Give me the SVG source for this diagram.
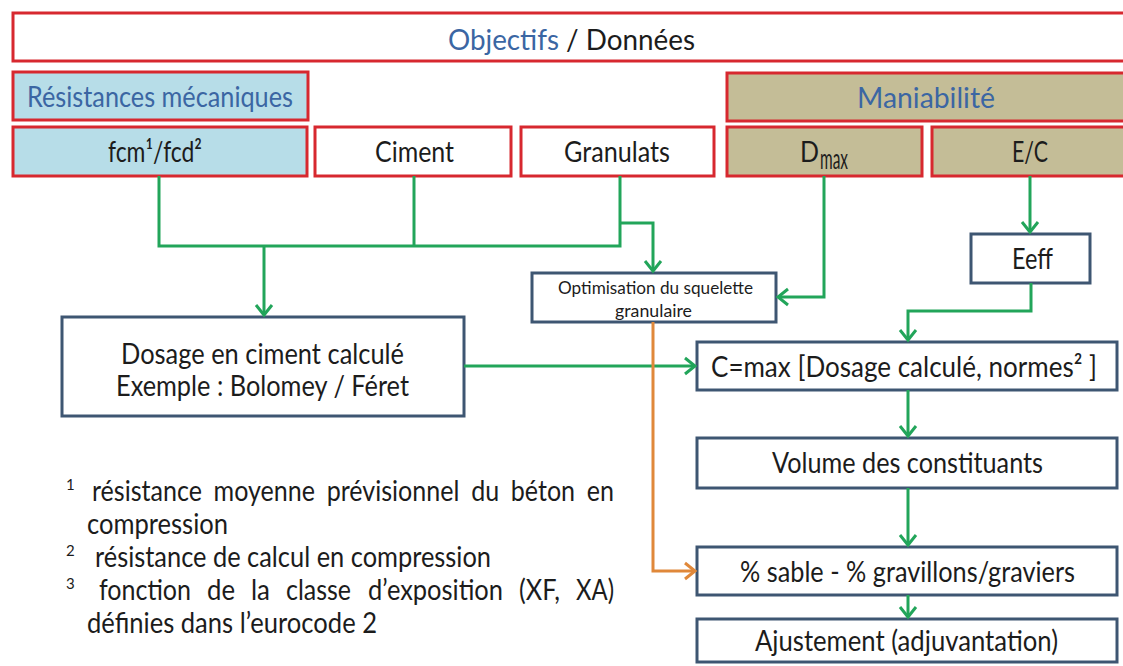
<svg xmlns="http://www.w3.org/2000/svg" width="1123" height="666" viewBox="0 0 1123 666">
<defs>
<style>
.red{fill:#fff;stroke:#d7282f;stroke-width:3}
.lb{fill:#b7dde8}
.tan{fill:#c4bd97}
.sl{fill:#fff;stroke:#3e5672;stroke-width:3}
.t{font-family:Lato,"Liberation Sans",sans-serif;font-size:28.5px;fill:#1c1c1c}
.tb{fill:#3b66a3}
.sm{font-size:17.5px}
.fn{font-size:15px}
.conn{fill:none;stroke:#22a55a;stroke-width:3}
.org{fill:none;stroke:#e0883a;stroke-width:3}
</style>
<marker id="ag" markerUnits="userSpaceOnUse" markerWidth="16" markerHeight="20" viewBox="-2 -2 16 20" refX="10" refY="8" orient="auto">
<path d="M0,0 L10,8 L0,16" fill="none" stroke="#22a55a" stroke-width="3"/>
</marker>
<marker id="ao" markerUnits="userSpaceOnUse" markerWidth="16" markerHeight="20" viewBox="-2 -2 16 20" refX="10" refY="8" orient="auto">
<path d="M0,0 L10,8 L0,16" fill="none" stroke="#e0883a" stroke-width="3"/>
</marker>
</defs>
<rect width="1123" height="666" fill="#fff"/>

<g id="objectifs">
<rect class="red" x="13" y="13" width="1116" height="48"/>
<text class="t tb" x="448" y="50" font-size="30" textLength="111" lengthAdjust="spacingAndGlyphs">Objectifs</text>
<text class="t" x="566" y="50" font-size="30" textLength="129" lengthAdjust="spacingAndGlyphs">/ Données</text>
</g>
<g id="resistances">
<rect class="red lb" x="13" y="72" width="295" height="48"/>
<text class="t tb" x="27" y="107" font-size="29" textLength="266" lengthAdjust="spacingAndGlyphs">Résistances mécaniques</text>
</g>
<g id="maniabilite">
<rect class="red tan" x="727" y="73" width="402" height="48"/>
<text class="t tb" x="857" y="108" font-size="29" textLength="138" lengthAdjust="spacingAndGlyphs">Maniabilité</text>
</g>
<g id="fcm">
<rect class="red lb" x="13" y="127" width="294" height="49"/>
<text class="t" x="108" y="162" textLength="94" lengthAdjust="spacingAndGlyphs">fcm¹/fcd²</text>
</g>
<g id="ciment">
<rect class="red" x="315" y="127" width="196" height="49"/>
<text class="t" x="375" y="162" textLength="79" lengthAdjust="spacingAndGlyphs">Ciment</text>
</g>
<g id="granulats">
<rect class="red" x="521" y="127" width="193" height="49"/>
<text class="t" x="564" y="162" textLength="106" lengthAdjust="spacingAndGlyphs">Granulats</text>
</g>
<g id="dmax">
<rect class="red tan" x="727" y="127" width="195" height="49"/>
<text class="t" x="800" y="162" textLength="19" lengthAdjust="spacingAndGlyphs">D</text>
<text class="t" x="820" y="169" font-size="18" textLength="28" lengthAdjust="spacingAndGlyphs">max</text>
</g>
<g id="ec">
<rect class="red tan" x="932" y="127" width="197" height="49"/>
<text class="t" x="1012" y="162" textLength="36" lengthAdjust="spacingAndGlyphs">E/C</text>
</g>
<g id="optimisation">
<rect class="sl" x="532" y="273" width="244" height="49"/>
<text class="t sm" x="558" y="294" textLength="195" lengthAdjust="spacingAndGlyphs">Optimisation du squelette</text>
<text class="t sm" x="615" y="317" textLength="77" lengthAdjust="spacingAndGlyphs">granulaire</text>
</g>
<g id="eeff">
<rect class="sl" x="971" y="234" width="119" height="49"/>
<text class="t" x="1012" y="269" textLength="41" lengthAdjust="spacingAndGlyphs">Eeff</text>
</g>
<g id="dosage">
<rect class="sl" x="62" y="317" width="402" height="99"/>
<text class="t" x="121" y="364" textLength="283" lengthAdjust="spacingAndGlyphs">Dosage en ciment calculé</text>
<text class="t" x="116" y="396" textLength="293" lengthAdjust="spacingAndGlyphs">Exemple : Bolomey / Féret</text>
</g>
<g id="cmax">
<rect class="sl" x="697" y="342" width="420" height="48"/>
<text class="t" x="711" y="377" font-size="27" textLength="386" lengthAdjust="spacingAndGlyphs">C=max [Dosage calculé, normes² ]</text>
</g>
<g id="volume">
<rect class="sl" x="697" y="438" width="420" height="50"/>
<text class="t" x="772" y="473" textLength="271" lengthAdjust="spacingAndGlyphs">Volume des constituants</text>
</g>
<g id="sable">
<rect class="sl" x="697" y="547" width="420" height="48"/>
<text class="t" x="740" y="582" textLength="335" lengthAdjust="spacingAndGlyphs">% sable - % gravillons/graviers</text>
</g>
<g id="ajustement">
<rect class="sl" x="697" y="619" width="420" height="43"/>
<text class="t" x="755" y="651" textLength="303" lengthAdjust="spacingAndGlyphs">Ajustement (adjuvantation)</text>
</g>

<g id="connectors">
<path class="conn" d="M159,176 V246 H620 V176"/>
<path class="conn" d="M414,176 V246"/>
<path class="conn" d="M264,246 V315" marker-end="url(#ag)"/>
<path class="conn" d="M620,223 H653 V271" marker-end="url(#ag)"/>
<path class="conn" d="M824,176 V297 H778" marker-end="url(#ag)"/>
<path class="conn" d="M1030,176 V232" marker-end="url(#ag)"/>
<path class="conn" d="M1031,283 V311 H908 V340" marker-end="url(#ag)"/>
<path class="conn" d="M464,366 H695" marker-end="url(#ag)"/>
<path class="conn" d="M908,390 V436" marker-end="url(#ag)"/>
<path class="conn" d="M908,488 V545" marker-end="url(#ag)"/>
<path class="conn" d="M908,595 V617" marker-end="url(#ag)"/>
<path class="org" d="M653,322 V571 H695" marker-end="url(#ao)"/>
</g>

<g id="footnotes">
<text class="t fn" x="66" y="490">1</text>
<text class="t" x="92" y="501" word-spacing="6" textLength="522" lengthAdjust="spacingAndGlyphs">résistance moyenne prévisionnel du béton en</text>
<text class="t" x="87" y="534" textLength="141" lengthAdjust="spacingAndGlyphs">compression</text>
<text class="t fn" x="66" y="556">2</text>
<text class="t" x="95" y="567" textLength="396" lengthAdjust="spacingAndGlyphs">résistance de calcul en compression</text>
<text class="t fn" x="66" y="589">3</text>
<text class="t" x="99" y="600" textLength="92" lengthAdjust="spacingAndGlyphs">fonction</text>
<text class="t" x="207" y="600" textLength="28" lengthAdjust="spacingAndGlyphs">de</text>
<text class="t" x="251" y="600" textLength="19" lengthAdjust="spacingAndGlyphs">la</text>
<text class="t" x="286" y="600" textLength="65" lengthAdjust="spacingAndGlyphs">classe</text>
<text class="t" x="368" y="600" textLength="135" lengthAdjust="spacingAndGlyphs">d’exposition</text>
<text class="t" x="519" y="600" textLength="41" lengthAdjust="spacingAndGlyphs">(XF,</text>
<text class="t" x="576" y="600" textLength="38" lengthAdjust="spacingAndGlyphs">XA)</text>
<text class="t" x="87" y="633" textLength="290" lengthAdjust="spacingAndGlyphs">définies dans l’eurocode 2</text>
</g>
</svg>
